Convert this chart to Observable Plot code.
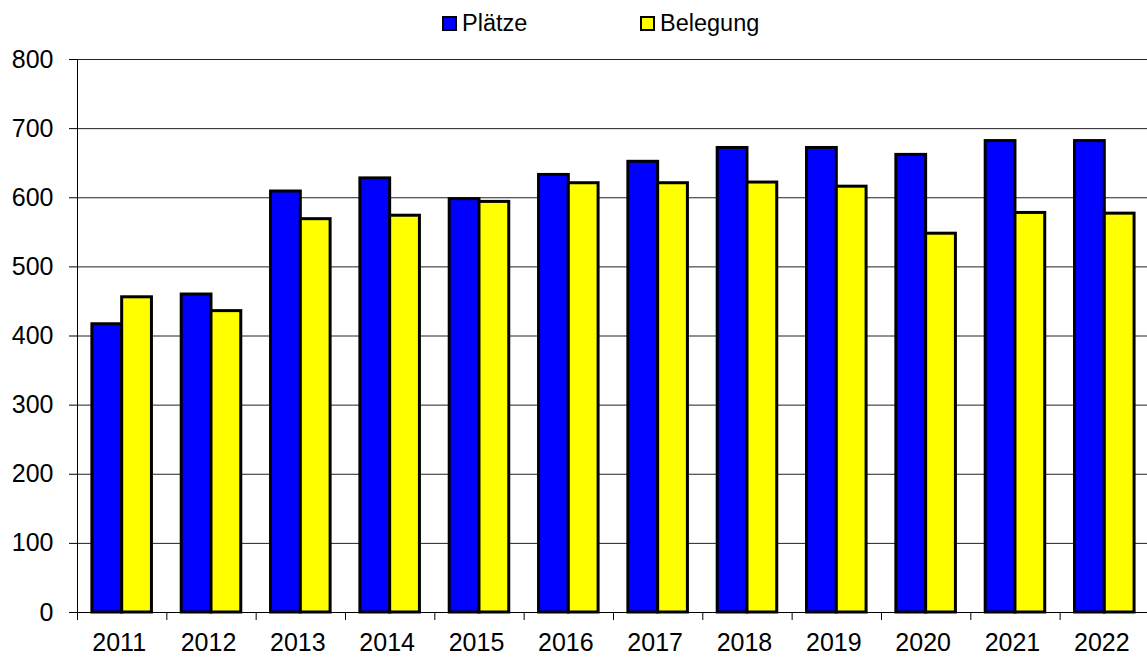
<!DOCTYPE html>
<html>
<head>
<meta charset="utf-8">
<script src="https://cdn.jsdelivr.net/npm/d3@7"></script>
<script src="https://cdn.jsdelivr.net/npm/@observablehq/plot@0.6"></script>
<style>
  html, body { margin: 0; padding: 0; background: #fff; }
  body { width: 1147px; height: 657px; overflow: hidden; font-family: "Liberation Sans", Arial, sans-serif; }
  #legend { position: relative; width: 1147px; height: 45px; font-size: 23.5px; color: #000; }
  .item { position: absolute; top: 1px; height: 45px; display: flex; align-items: center; }
  .sw { width: 15px; height: 15px; box-sizing: border-box; border: 2px solid #000; margin-right: 5px; }
  svg { display: block; }
</style>
</head>
<body>
<div id="legend"></div>
<div id="chart"></div>
<script>
const years = ["2011","2012","2013","2014","2015","2016","2017","2018","2019","2020","2021","2022"];
const plaetze = [417, 460, 609, 628, 598, 633, 652, 672, 672, 662, 682, 682];
const belegung = [456, 436, 569, 574, 594, 621, 621, 622, 616, 548, 578, 577];
const seriesNames = ["Plätze", "Belegung"];
const seriesColors = ["#0000FF", "#FFFF00"];
const yTicks = [0, 100, 200, 300, 400, 500, 600, 700, 800];

const seriesValues = [plaetze, belegung];
const data = years.flatMap((year, i) =>
  seriesNames.map((s, k) => ({ i, year, series: s, slot: k, value: seriesValues[k][i] }))
);

// legend
const legend = document.getElementById("legend");
const legendLeft = [442, 640];
seriesNames.forEach((s, k) => {
  const it = document.createElement("div");
  it.className = "item";
  it.style.left = legendLeft[k] + "px";
  const sw = document.createElement("div");
  sw.className = "sw";
  sw.style.background = seriesColors[k];
  const t = document.createElement("span");
  t.textContent = s;
  it.appendChild(sw);
  it.appendChild(t);
  legend.appendChild(it);
});

const n = years.length;
const chart = Plot.plot({
  width: 1147,
  height: 612,
  marginTop: 14,
  marginBottom: 45,
  marginLeft: 77,
  marginRight: 0,
  style: { fontFamily: "Liberation Sans, Arial, sans-serif", fontSize: "25px", color: "#000", background: "#fff" },
  x: { type: "linear", domain: [0, n], range: [77, 77 + n * 89.33], axis: null },
  y: { domain: [0, 800], axis: null },
  color: { domain: seriesNames, range: seriesColors },
  marks: [
    Plot.ruleY(yTicks.filter(v => v > 0), { x1: 0, x2: n, stroke: "#222", strokeWidth: 1 }),
    Plot.rectY(data, {
      x1: d => d.i + 1/6 + d.slot / 3,
      x2: d => d.i + 1/6 + (d.slot + 1) / 3,
      y1: 0,
      y2: "value",
      fill: "series",
      stroke: "#000",
      strokeWidth: 3
    }),
    Plot.ruleY([0], { x1: 0, x2: n, stroke: "#000", strokeWidth: 1 }),
    Plot.ruleX([0], { y1: 0, y2: 800, stroke: "#000", strokeWidth: 1 }),
    Plot.axisY(yTicks, { tickSize: 8, tickPadding: 16, fontSize: 25, stroke: "#000", label: null }),
    Plot.axisX(d3.range(n + 1), { tickSize: 8, tickFormat: () => "", stroke: "#000", label: null }),
    Plot.text(years, {
      x: (d, i) => i + 0.5,
      y: () => 0,
      text: d => d,
      dy: 30,
      dx: -3,
      lineAnchor: "middle",
      fontSize: 25,
      fill: "#000"
    })
  ]
});
document.getElementById("chart").appendChild(chart);
</script>
</body>
</html>
